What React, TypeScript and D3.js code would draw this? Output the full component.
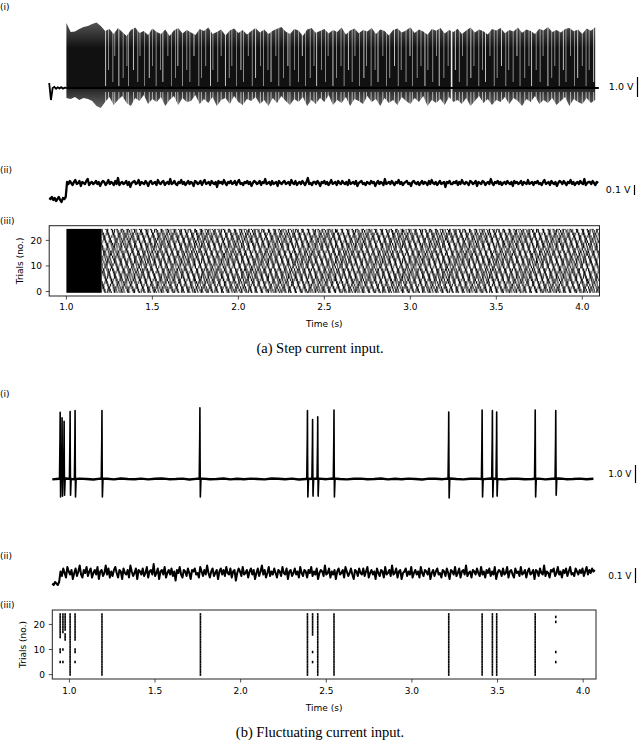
import React from 'react';
import * as d3 from 'd3';

// ---------- shared ----------
const xTicks = [1.0, 1.5, 2.0, 2.5, 3.0, 3.5, 4.0];
const trialTicks = [0, 10, 20];
const numTrials = 25;

// ---------- (a) step current ----------
const stepXDomain = [0.9, 4.1];
// pre-step membrane trace (V), sampled every 0.01 s from 0.9 s
const stepPreValues = [0.25, -0.6, 0.0, 0.05, -0.04, 0.03, -0.02, 0.04, -0.03, 0.02, 0.0];
// spike peaks (V), every 0.025 s from 1.0 s
const stepTopEnvelope = [
  3.25, 2.8, 2.82, 2.95, 3.05, 3.1, 3.2, 3.27, 3.1, 2.85,
  2.95, 2.7, 3.0, 2.8, 2.6, 2.9, 3.02, 2.75, 2.85, 2.65,
  2.98, 2.8, 2.7, 2.92, 2.6, 2.88, 3.0, 2.72, 2.9, 2.78,
  2.65, 2.95, 2.85, 3.03, 2.7, 2.8, 2.92, 2.62, 2.88, 2.98,
  2.75, 2.9, 2.68, 2.85, 3.0, 2.78, 2.93, 2.7, 2.86, 2.96,
  3.05, 2.82, 2.7, 2.95, 2.88, 2.6, 2.92, 3.0, 2.76, 2.85,
  2.95, 2.72, 2.9, 2.8, 3.02, 2.68, 2.87, 2.97, 2.74, 2.9,
  2.82, 3.0, 2.7, 2.93, 2.85, 2.62, 2.9, 2.98, 2.78, 2.88,
  3.04, 2.75, 2.92, 2.83, 2.66, 2.95, 2.86, 3.0, 2.72, 2.9,
  2.8, 2.96, 2.7, 2.88, 3.02, 2.77, 2.93, 2.84, 2.68, 2.95,
  2.87, 3.0, 2.74, 2.9, 2.82, 3.03, 2.76, 2.92, 2.85, 2.7,
  2.96, 2.88, 3.05, 2.8, 2.9, 2.78, 2.95, 3.0, 2.84, 2.92,
  2.7, 2.98, 2.86, 3.04, 2.9,
];
// after-hyperpolarisation troughs (V), every 0.025 s from 1.0 s
const stepTroughs = [
  -0.5, -0.55, -0.45, -0.6, -0.5, -0.55, -0.65, -0.9, -1.0,
  -0.7, -0.45, -0.85, -0.6, -0.4, -0.75, -0.9, -0.5, -0.65, -0.35,
  -0.8, -0.55, -0.7, -0.45, -0.9, -0.6, -0.4, -0.85, -0.5, -0.7,
  -0.65, -0.35, -0.8, -0.55, -0.75, -0.45, -0.9, -0.6, -0.5, -0.8,
  -0.4, -0.7, -0.85, -0.55, -0.65, -0.45, -0.8, -0.6, -0.9, -0.5,
  -0.75, -0.4, -0.65, -0.85, -0.55, -0.7, -0.45, -0.9, -0.6, -0.8,
  -0.5, -0.7, -0.35, -0.85, -0.6, -0.75, -0.45, -0.9, -0.55, -0.65,
  -0.8, -0.4, -0.7, -0.55, -0.9, -0.5, -0.75, -0.6, -0.85, -0.45,
  -0.65, -0.8, -0.5, -0.7, -0.4, -0.9, -0.6, -0.75, -0.55, -0.85,
  -0.45, -0.7, -0.6, -0.8, -0.5, -0.9, -0.65, -0.4, -0.75, -0.55,
  -0.85, -0.6, -0.7, -0.45, -0.8, -0.5, -0.65, -0.9, -0.55, -0.7,
  -0.4, -0.8, -0.6, -0.75, -0.5, -0.85,
  -0.65, -0.45, -0.9, -0.55, -0.7, -0.8, -0.5, -0.75, -0.6, -0.85,
];
// visible inter-spike gaps (s)
const stepGapTimes = [
  1.228, 1.245, 1.27, 1.281, 1.305, 1.33, 1.352, 1.361, 1.39, 1.415, 1.428, 1.455, 1.482, 1.5,
  1.522, 1.548, 1.561, 1.59, 1.612, 1.635, 1.648, 1.675, 1.7, 1.718, 1.742, 1.77, 1.785, 1.81,
  1.838, 1.852, 1.88, 1.9, 1.925, 1.947, 1.962, 1.99, 2.015, 2.03, 2.058, 2.081, 2.1, 2.128,
  2.146, 2.172, 2.19, 2.218, 2.235, 2.262, 2.288, 2.3, 2.327, 2.35, 2.372, 2.39, 2.418, 2.44,
  2.455, 2.483, 2.507, 2.522, 2.55, 2.571, 2.597, 2.615, 2.64, 2.662, 2.678, 2.705, 2.73,
  2.745, 2.772, 2.795, 2.812, 2.84, 2.862, 2.88, 2.908, 2.93, 2.947, 2.975, 2.998, 3.012,
  3.04, 3.062, 3.085, 3.102, 3.13, 3.152, 3.168, 3.195, 3.22, 3.24, 3.262, 3.285, 3.303,
  3.33, 3.352, 3.37, 3.398, 3.42, 3.437, 3.463, 3.488, 3.505, 3.53, 3.555, 3.572, 3.598,
  3.62, 3.638, 3.665, 3.69, 3.705, 3.732, 3.755, 3.772, 3.8, 3.822, 3.84, 3.866, 3.89,
  3.905, 3.932, 3.955, 3.973, 4.0, 4.022, 4.04, 4.066, 4.088,
];
const stepWideGap = 3.24;
// subthreshold trace (units of 0.01 V), every 0.008 s from 0.9 s
const stepSubthreshold = [
  -15, -16, -14, -17, -15, -18, -16, -14, -17, -19, -15, -16, -14,
  1, -1, 2, 0, -2, 1, 3, -1, 0, 2, -3, 1, 0, -1, 2, 4, -2, 0, 1, -1,
  0, 2, -1, 1, -3, 0, 2, 1, -2, 0, 3, -1, 1, 0, -2, 2, -1, 5, -2, 0,
  1, -1, 0, 2, -2, 1, -4, 0, 1, 2, -1, 0, 3, -2, 1, 0, -1, 2, 0, -3,
  1, 2, -1, 0, 1, -2, 3, 0, -1, 1, 2, -2, 0, 1, -1, 4, -1, 0, 2, -1,
  -2, 1, 0, 3, -1, 1, -2, 0, 2, -1, 1, 0, -3, 2, 1, -1, 0, 2, -2, 1,
  3, -1, 0, 1, -2, 2, 0, -1, 1, -4, 2, 0, 1, -1, 3, 0, -2, 1, 0, 2,
  -1, 0, 2, -2, 1, 3, -1, 0, -2, 1, 0, 2, -1, 1, -3, 0, 2, 1, -1, 0,
  2, -2, 1, 0, 4, -1, 0, 1, -2, 2, -1, 0, 1, -3, 2, 0, -1, 1, 2, -1,
  0, 1, -2, 3, 0, -1, 2, -2, 0, 1, -1, 2, 0, -2, 1, 5, -1, 0, -2, 1,
  1, -1, 2, 0, -3, 1, 0, 2, -1, 1, -2, 0, 3, -1, 0, 1, -2, 2, 0, -1,
  2, 0, -1, 1, -2, 3, -1, 0, 1, -1, 2, -3, 0, 1, 2, -1, 0, -2, 1, 0,
  -1, 2, 0, 1, -3, 0, 2, -1, 1, 0, -2, 4, -1, 0, 1, -1, 2, 0, -2, 1,
  0, 3, -1, 1, -2, 0, 1, 2, -1, 0, -3, 1, 2, 0, -1, 1, -2, 0, 2, -1,
  1, 0, -2, 2, -1, 3, 0, -1, 1, -2, 0, 2, -1, 0, 1, -4, 1, 0, 2, -1,
  -1, 1, 0, 2, -2, 1, -1, 3, 0, -1, 1, 0, -2, 2, 1, -1, 0, 2, -3, 1,
  0, -1, 2, 1, -2, 0, 1, -1, 4, 0, -2, 1, 0, 2, -1, 1, -2, 0, 1, -1,
  2, 0, -1, 1, -3, 2, 0, 1, -1, 0, 2, -2, 1, 0, -1, 3, -1, 0, 1, -2,
  1, 0, 2, -1, 0, -2, 1, 3, -1, 0, 1, -2, 2, 0, -1, 1, -3, 0, 2, 1,
  -1, 2, 0, -2, 1, 0, 3, -1, 1, -2, 0, 1, -1, 2, 0, -1, 4, -2, 0, 1,
  1, -1, 2, 0, -2, 1, 0, 2,
];
const stepBurstWindow = [1.0, 1.205];
const stepRasterEnd = 4.096;

// ---------- (b) fluctuating current ----------
const fluctXDomain = [0.9, 4.075];
const fluctSpikeTimes = [0.946, 0.957, 0.969, 1.004, 1.033, 1.19, 1.762, 2.39, 2.42, 2.45, 2.545, 3.215, 3.41, 3.47, 3.495, 3.72, 3.84];
const fluctSpikePeaks = [3.7, 3.4, 3.2, 3.75, 3.8, 3.8, 3.95, 3.8, 3.3, 3.45, 3.83, 3.72, 3.83, 3.8, 3.72, 3.83, 3.8];
const fluctSpikeTroughs = [-1.0, -0.95, -0.9, -0.9, -1.0, -1.0, -1.0, -1.0, -0.95, -0.95, -1.0, -1.05, -1.0, -1.0, -0.95, -1.0, -0.9];
// baseline noise (units of 0.01 V), every 0.04 s from 0.9 s
const fluctBaseline = [
  -2, 1, 3, -1, 2, 0, -3, 2, 1, -2, 3, 0, -1, 2, -2, 1, 3, -1, 0, 2,
  -3, 1, 2, -1, 0, 3, -2, 1, -1, 2, 0, -2, 3, 1, -1, 2, -3, 0, 1, 2,
  -1, 3, 0, -2, 1, 2, -1, 0, 3, -2, 1, -1, 2, 0, -3, 2, 1, -1, 3, 0,
  -2, 1, 2, -1, 3, 0, -2, 2, 1, -1, 0, 2, -2, 1, 3, -1, 0, 2, -1, 1,
];
// subthreshold trace (units of 0.01 V), every 0.008 s from 0.9 s
const fluctSubthreshold = [
  -7, -8, -6, -7, -8, -6,
  1, -2, 3, 0, -3, 4, 1, -1, 2, -4, 0, 3, -2, 1, 5, -1, -3, 2, 0, 4,
  -2, 1, 3, -3, 0, 2, -1, 4, -4, 1, 2, -2, 0, 5, -1, 3, -3, 1, -2, 2,
  4, 0, -3, 2, 1, -4, 3, 0, -1, 2, -3, 5, 1, -2, 0, 3, -4, 2, 1, -1,
  3, -2, 0, 4, -3, 1, 2, -1, 6, -2, 0, 3, -4, 1, 2, -1, 4, -3, 0, 2,
  -1, 3, -2, 1, -5, 2, 0, 4, -1, -3, 2, 1, -2, 3, 0, -4, 2, 1, 3, -1,
  0, -3, 4, 1, -2, 2, -1, 5, 0, -3, 1, 3, -2, 0, 2, -4, 1, 3, -1, 2,
  -2, 4, 0, -1, 3, -3, 1, 2, -5, 0, 3, 1, -2, 4, -1, 0, 2, -3, 1, 3,
  -1, 2, -4, 0, 3, -2, 1, 5, -1, 2, -3, 0, 4, -2, 1, -1, 3, 0, -3, 2,
  1, -2, 4, 0, -1, 3, -4, 1, 2, -2, 0, 3, -1, 1, -3, 4, 0, -2, 2, 1,
  -3, 2, 0, 4, -2, 1, -1, 3, -4, 0, 2, 1, -2, 5, -1, 0, 3, -3, 1, -1,
  2, -4, 1, 3, -1, 0, 2, -3, 4, 1, -2, 0, 3, -1, -4, 2, 1, -2, 3, 0,
  -1, 3, -2, 1, 4, -3, 0, 2, -1, 1, -4, 3, 0, -2, 2, 1, -3, 4, -1, 0,
  2, -2, 5, -1, 0, 3, -3, 1, 2, -4, 0, 1, 3, -2, 1, -1, 4, -3, 0, 2,
  -1, 1, -3, 4, 0, -2, 2, 1, -1, 3, -4, 0, 2, -2, 1, 3, -1, 0, -3, 2,
  1, -2, 3, 0, -4, 2, 1, -1, 4, -2, 0, 3, -3, 1, 2, -1, 5, -2, 0, 1,
  -3, 2, 1, -1, 3, 0, -2, 4, -1, 1, -3, 2, 0, 3, -2, 1, -1, 4, -4, 0,
  2, 1, -2, 3, -1, 0, 4, -3, 1, 2, -1, -3, 3, 0, 1, -2, 4, -1, 0, 2,
  -3, 1, 3, -1, 0, 2, -4, 2, 1, -2, 3, 0, -1, 5, -2, 1, 0, -3, 2, 1,
  3, -2, 0, 4, -1, 1, -3, 2, 0, 3, -2, 1, 4, -1, 0, -2, 3, 1, -1, 2,
  0, 3, -2, 1, 4, -1, 2, 0, 3, 1, 2,
];
const allTrials = d3.range(numTrials);
const fluctRasterTimes = [0.946, 0.962, 0.975, 1.004, 1.033, 1.19, 1.765, 2.39, 2.42, 2.45, 2.545, 3.215, 3.41, 3.47, 3.495, 3.72, 3.84];
const fluctRasterTrials = [
  [5, 9, 10, 15, 16, 17, 18, 19, 20, 21, 22, 23, 24],
  [5, 10, 17, 18, 19, 20, 21, 22, 23, 24],
  [14, 15, 16, 18, 19, 20, 21, 22, 23, 24],
  allTrials,
  [5, 9, 10, 14, 15, 16, 17, 18, 19, 20, 21, 22, 23, 24],
  allTrials,
  allTrials,
  allTrials,
  [5, 9, 16, 17, 18, 19, 20, 21, 22, 23, 24],
  allTrials,
  allTrials,
  allTrials,
  allTrials,
  allTrials,
  allTrials,
  allTrials,
  [5, 9, 21, 23],
];

const SANS = 'DejaVu Sans, sans-serif';
const SERIF = 'Liberation Serif, Times New Roman, serif';

type XS = d3.ScaleLinear<number, number>;

function RasterAxes({ x, y, top, bottom, left, right, labelX, tickLabelY, timeLabelY, yLabelX }:
  { x: XS; y: XS; top: number; bottom: number; left: number; right: number; labelX: number; tickLabelY: number; timeLabelY: number; yLabelX: number }) {
  return (
    <g>
      <rect x={left} y={top} width={right - left} height={bottom - top} fill="none" stroke="#222" strokeWidth={1} />
      {xTicks.map((t) => (
        <g key={'x' + t}>
          <line x1={x(t)} x2={x(t)} y1={bottom} y2={bottom + 3.5} stroke="#222" strokeWidth={0.8} />
          <text x={x(t)} y={tickLabelY} fontSize={9} fontFamily={SANS} textAnchor="middle">{t.toFixed(1)}</text>
        </g>
      ))}
      {trialTicks.map((v) => (
        <g key={'y' + v}>
          <line x1={left - 3.5} x2={left} y1={y(v)} y2={y(v)} stroke="#222" strokeWidth={0.8} />
          <text x={labelX} y={y(v) + 3.3} fontSize={9} fontFamily={SANS} textAnchor="end">{v}</text>
        </g>
      ))}
      <text x={(left + right) / 2} y={timeLabelY} fontSize={9} fontFamily={SANS} textAnchor="middle">Time (s)</text>
      <text transform={`translate(${yLabelX},${(top + bottom) / 2}) rotate(-90)`} fontSize={9} fontFamily={SANS} textAnchor="middle">Trials (no.)</text>
    </g>
  );
}

function ScaleBar({ x, yTop, yBottom, label, fs }: { x: number; yTop: number; yBottom: number; label: string; fs: number }) {
  return (
    <g>
      <text x={x - 4} y={(yTop + yBottom) / 2 + fs * 0.36} fontSize={fs} fontFamily={SANS} textAnchor="end">{label}</text>
      <line x1={x} x2={x} y1={yTop} y2={yBottom} stroke="#000" strokeWidth={1.2} />
    </g>
  );
}

export default function App() {
  // ----- (a) scales -----
  const xA = d3.scaleLinear().domain(stepXDomain).range([49.2, 599.5]);
  const yA1 = d3.scaleLinear().domain([0, 1]).range([88, 68]);
  const yA2 = d3.scaleLinear().domain([0, 0.1]).range([183, 173]);
  const yA3 = d3.scaleLinear().domain([-1.75, 25.75]).range([296, 225.7]);

  // ----- (b) scales -----
  const xB = d3.scaleLinear().domain(fluctXDomain).range([52.3, 596]);
  const yB1 = d3.scaleLinear().domain([0, 1]).range([479, 461]);
  const yB2 = d3.scaleLinear().domain([0, 0.1]).range([573, 558]);
  const yB3 = d3.scaleLinear().domain([-1.75, 25.75]).range([679, 610]);

  const pts = (vals: number[], t0: number, dt: number, k: number, tMax = Infinity) =>
    vals.map((v, i) => [t0 + i * dt, v * k] as [number, number]).filter((p) => p[0] <= tMax + 1e-9);

  const lineA1 = d3.line<[number, number]>().x((d) => xA(d[0])).y((d) => yA1(d[1]));
  const lineA2 = d3.line<[number, number]>().x((d) => xA(d[0])).y((d) => yA2(d[1]));
  const lineB1 = d3.line<[number, number]>().x((d) => xB(d[0])).y((d) => yB1(d[1]));
  const lineB2 = d3.line<[number, number]>().x((d) => xB(d[0])).y((d) => yB2(d[1]));

  const topPts = pts(stepTopEnvelope, 1.0, 0.025, 1, stepRasterEnd);
  const botPts = pts(stepTroughs, 1.0, 0.025, 1, stepRasterEnd);
  const envArea = d3.area<[number, number]>().x((d) => xA(d[0])).y0(yA1(0)).y1((d) => yA1(d[1]));
  const interp = (arr: number[], t: number) => {
    const u = (t - 1.0) / 0.025;
    const i = Math.max(0, Math.min(arr.length - 2, Math.floor(u)));
    const f = Math.min(1, u - i);
    return arr[i] * (1 - f) + arr[i + 1] * f;
  };
  const gapDepths = [0.1, 0.9, 0.3, 1.6, 0.1, 0.5, 1.1];

  const rowH = Math.abs(yA3(1) - yA3(0));
  // raster texture tiles: [tile width, rows per tile, shift per row, tick width]
  const hatches: [number, number, number, number][] = [
    [5.6, 5, 1.12, 1.2],
    [4.9, 7, 0.7, 1.1],
    [6.7, 6, -1.3, 1.0],
  ];

  const spikePath = (t: number, peak: number, trough: number) =>
    lineB1([[t - 0.004, 0], [t - 0.001, peak * 0.6], [t, peak], [t + 0.001, peak * 0.3], [t + 0.0025, trough], [t + 0.006, 0]]) as string;

  const rTop = yA3(numTrials - 0.5), rBot = yA3(-0.5);

  return (
    <svg width={640} height={744} style={{ position: 'absolute', left: 0, top: 0, background: '#fff' }}>
      <defs>
        {hatches.map(([w, n, s, tw], k) => (
          <pattern key={k} id={'hatch' + k} patternUnits="userSpaceOnUse" width={w} height={rowH * n}>
            {d3.range(n).map((r) => (
              <rect key={r} x={(((r * s) % w) + w) % w} y={r * rowH} width={tw} height={rowH} fill="#000" />
            ))}
          </pattern>
        ))}
        <linearGradient id="tipGrad" gradientUnits="userSpaceOnUse" x1={0} y1={yA1(3.3)} x2={0} y2={yA1(2.0)}>
          <stop offset="0" stopColor="#555" />
          <stop offset="1" stopColor="#111" />
        </linearGradient>
        <linearGradient id="ahpGrad" gradientUnits="userSpaceOnUse" x1={0} y1={yA1(0)} x2={0} y2={yA1(-1.0)}>
          <stop offset="0" stopColor="#222" />
          <stop offset="1" stopColor="#666" />
        </linearGradient>
      </defs>

      {/* ===== (a) ===== */}
      <text x={0} y={10} fontSize={9} fontFamily={SANS}>(i)</text>
      <path d={lineA1(pts(stepPreValues, 0.9, 0.01, 1)) as string} fill="none" stroke="#000" strokeWidth={1.8} />
      <path d={envArea(botPts) as string} fill="url(#ahpGrad)" />
      <path d={envArea(topPts) as string} fill="url(#tipGrad)" />
      {stepGapTimes.map((t, i) => (
        <g key={'g' + i}>
          <line x1={xA(t)} x2={xA(t)} y1={yA1(interp(stepTopEnvelope, t)) - 1} y2={yA1(gapDepths[i % gapDepths.length])} stroke="#fff" strokeWidth={i % 4 === 0 ? 1.0 : 0.7} opacity={0.75} />
          <line x1={xA(t)} x2={xA(t)} y1={yA1(-0.2)} y2={yA1(interp(stepTroughs, t)) + 1} stroke="#fff" strokeWidth={0.9} opacity={0.7} />
        </g>
      ))}
      <line x1={xA(stepWideGap)} x2={xA(stepWideGap)} y1={yA1(3.2)} y2={yA1(-1.1)} stroke="#fff" strokeWidth={1.6} opacity={0.85} />
      <line x1={xA(1.0)} x2={xA(stepRasterEnd)} y1={yA1(0)} y2={yA1(0)} stroke="#000" strokeWidth={2.2} />
      <ScaleBar x={637.5} yTop={yA1(0.55)} yBottom={yA1(-0.45)} label="1.0 V" fs={9.5} />

      <text x={0} y={173} fontSize={9} fontFamily={SANS}>(ii)</text>
      <path d={lineA2(pts(stepSubthreshold, 0.9, 0.008, 0.01, stepRasterEnd)) as string} fill="none" stroke="#000" strokeWidth={2.3} strokeLinejoin="round" />
      <ScaleBar x={634.5} yTop={yA2(-0.02)} yBottom={yA2(-0.12)} label="0.1 V" fs={9.5} />

      <text x={0} y={224} fontSize={9} fontFamily={SANS}>(iii)</text>
      <rect x={xA(stepBurstWindow[0])} y={rTop} width={xA(stepBurstWindow[1]) - xA(stepBurstWindow[0])} height={rBot - rTop} fill="#000" />
      {hatches.map((_, k) => (
        <rect key={'h' + k} x={xA(stepBurstWindow[1])} y={rTop} width={xA(stepRasterEnd) - xA(stepBurstWindow[1])} height={rBot - rTop} fill={`url(#hatch${k})`} />
      ))}
      <RasterAxes x={xA} y={yA3} top={225.7} bottom={296} left={49.2} right={599.5} labelX={42} tickLabelY={310} timeLabelY={327} yLabelX={23} />

      <text x={320} y={353} fontSize={14.5} fontFamily={SERIF} textAnchor="middle">(a) Step current input.</text>

      {/* ===== (b) ===== */}
      <text x={0} y={397} fontSize={9} fontFamily={SANS}>(i)</text>
      <path d={lineB1(pts(fluctBaseline, 0.9, 0.04, 0.01, 4.075)) as string} fill="none" stroke="#000" strokeWidth={2.4} strokeLinejoin="round" />
      {fluctSpikeTimes.map((t, i) => (
        <path key={'s' + i} d={spikePath(t, fluctSpikePeaks[i], fluctSpikeTroughs[i])} fill="#000" stroke="#000" strokeWidth={1.6} strokeLinejoin="round" />
      ))}
      <ScaleBar x={635.5} yTop={yB1(0.78)} yBottom={yB1(-0.22)} label="1.0 V" fs={9} />

      <text x={0} y={559} fontSize={9} fontFamily={SANS}>(ii)</text>
      <path d={lineB2(pts(fluctSubthreshold, 0.9, 0.008, 0.01, 4.075)) as string} fill="none" stroke="#000" strokeWidth={2.0} strokeLinejoin="round" />
      <ScaleBar x={635.5} yTop={yB2(0.033)} yBottom={yB2(-0.067)} label="0.1 V" fs={9} />

      <text x={0} y={608} fontSize={9} fontFamily={SANS}>(iii)</text>
      {fluctRasterTimes.map((t, i) => (
        <g key={'r' + i}>
          {fluctRasterTrials[i].map((tr) => (
            <line key={tr} x1={xB(t)} x2={xB(t)} y1={yB3(tr - 0.5)} y2={yB3(tr + 0.5)} stroke="#000" strokeWidth={1.6} />
          ))}
        </g>
      ))}
      <RasterAxes x={xB} y={yB3} top={610} bottom={679} left={52.3} right={596} labelX={45} tickLabelY={694} timeLabelY={711} yLabelX={26} />

      <text x={320} y={737} fontSize={14.5} fontFamily={SERIF} textAnchor="middle">(b) Fluctuating current input.</text>
    </svg>
  );
}
